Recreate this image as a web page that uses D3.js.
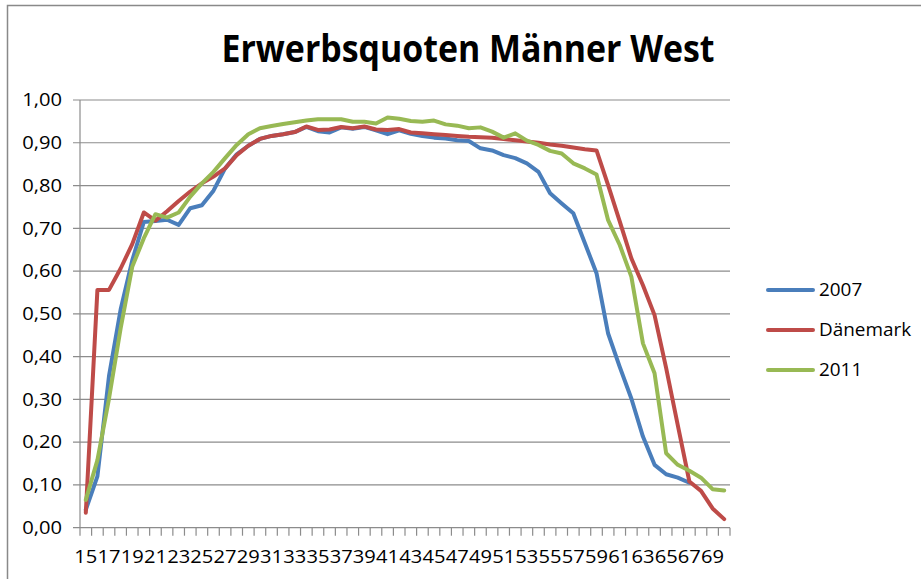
<!DOCTYPE html>
<html>
<head>
<meta charset="utf-8">
<style>
  body { margin: 0; background: #fff; }
  text { font-family: "Open Sans", sans-serif; fill: #000; }
</style>
</head>
<body>
<svg width="921" height="579"></svg>

<script src="https://cdn.jsdelivr.net/npm/d3@7"></script>
<script>

// ages 15 .. 70
var ages = d3.range(15, 71);

var seriesNames = ["2007", "Dänemark", "2011"];
var seriesColors = ["#4a7ebb", "#be4b48", "#98b954"];

// 2007 (ends at 67)
var values2007 = [0.042, 0.120, 0.355, 0.510, 0.625, 0.715, 0.717, 0.720, 0.708, 0.747,
  0.754, 0.788, 0.840, 0.873, 0.893, 0.909, 0.916, 0.920, 0.925, 0.937,
  0.927, 0.924, 0.936, 0.933, 0.937, 0.929, 0.920, 0.929, 0.921, 0.916,
  0.912, 0.910, 0.906, 0.904, 0.887, 0.882, 0.871, 0.864, 0.852, 0.832,
  0.782, 0.758, 0.735, 0.665, 0.595, 0.454, 0.376, 0.302, 0.213, 0.147,
  0.125, 0.117, 0.105];

var valuesDK = [0.035, 0.556, 0.556, 0.606, 0.663, 0.737, 0.718, 0.740, 0.764, 0.786,
  0.805, 0.821, 0.840, 0.871, 0.893, 0.909, 0.916, 0.920, 0.925, 0.938,
  0.930, 0.931, 0.937, 0.934, 0.938, 0.931, 0.930, 0.932, 0.924, 0.922,
  0.920, 0.918, 0.916, 0.914, 0.913, 0.912, 0.909, 0.906, 0.903, 0.900,
  0.896, 0.893, 0.889, 0.885, 0.882, 0.801, 0.716, 0.630, 0.567, 0.497,
  0.373, 0.240, 0.108, 0.086, 0.045, 0.020];

var values2011 = [0.065, 0.158, 0.302, 0.466, 0.610, 0.677, 0.733, 0.725, 0.737, 0.774,
  0.805, 0.832, 0.864, 0.895, 0.920, 0.934, 0.939, 0.944, 0.948, 0.952,
  0.955, 0.955, 0.955, 0.949, 0.949, 0.945, 0.959, 0.956, 0.951, 0.949,
  0.952, 0.943, 0.940, 0.934, 0.936, 0.926, 0.912, 0.922, 0.905, 0.895,
  0.881, 0.875, 0.852, 0.840, 0.826, 0.719, 0.661, 0.587, 0.431, 0.361,
  0.174, 0.147, 0.133, 0.117, 0.090, 0.087];

var yTicks = d3.range(0, 11).map(function(d) { return d / 10; });

var svg = d3.select("svg"),
    plotLeft = 80, plotRight = 730, plotTop = 100, plotBottom = 527.7;

// widen text a bit, the original font runs wide
function stretch(sel, k) {
  sel.each(function() {
    var w = this.getComputedTextLength();
    d3.select(this).attr("textLength", w * k).attr("lengthAdjust", "spacingAndGlyphs");
  });
}

// chart border (cut off on the right and bottom)
svg.append("rect")
    .attr("x", 7.5).attr("y", 5.5)
    .attr("width", 950).attr("height", 600)
    .attr("fill", "none")
    .attr("stroke", "#898989")
    .attr("stroke-width", 1.5);

var x = d3.scaleBand()
    .domain(ages)
    .range([plotLeft, plotRight]);

var y = d3.scaleLinear()
    .domain([0, 1])
    .range([plotBottom, plotTop]);

var fmt = function(d) { return d3.format(".2f")(d).replace(".", ","); };

// gridlines
svg.append("g")
  .selectAll("line")
  .data(yTicks)
  .enter().append("line")
    .attr("x1", plotLeft - 7).attr("x2", plotRight)
    .attr("y1", function(d) { return y(d); })
    .attr("y2", function(d) { return y(d); })
    .attr("stroke", "#8c8c8c")
    .attr("stroke-width", 1.2);

// y axis line
svg.append("line")
    .attr("x1", plotLeft).attr("x2", plotLeft)
    .attr("y1", plotTop).attr("y2", plotBottom)
    .attr("stroke", "#8c8c8c")
    .attr("stroke-width", 1.2);

svg.append("g")
  .selectAll("text")
  .data(yTicks)
  .enter().append("text")
    .attr("x", 62)
    .attr("y", function(d) { return y(d); })
    .attr("dy", "0.36em")
    .attr("text-anchor", "end")
    .attr("font-size", 17.5)
    .text(fmt)
    .call(stretch, 1.15);

// x ticks at category boundaries
var bounds = ages.map(function(a) { return x(a); }).concat([plotRight]);
svg.append("g")
  .selectAll("line")
  .data(bounds)
  .enter().append("line")
    .attr("x1", function(d) { return d; })
    .attr("x2", function(d) { return d; })
    .attr("y1", plotBottom).attr("y2", plotBottom + 8)
    .attr("stroke", "#8c8c8c")
    .attr("stroke-width", 1.2);

svg.append("g")
  .selectAll("text")
  .data(ages.filter(function(a, i) { return i % 2 == 0; }))
  .enter().append("text")
    .attr("x", function(d) { return x(d) + x.bandwidth() / 2; })
    .attr("y", 563)
    .attr("text-anchor", "middle")
    .attr("font-size", 17.5)
    .text(function(d) { return d; })
    .call(stretch, 1.15);

// lines
var series = [values2007, valuesDK, values2011];

var line = d3.line()
    .x(function(d, i) { return x(ages[i]) + x.bandwidth() / 2; })
    .y(function(d) { return y(d); });

svg.append("g")
  .selectAll("path")
  .data(series)
  .enter().append("path")
    .attr("d", line)
    .attr("fill", "none")
    .attr("stroke", function(d, i) { return seriesColors[i]; })
    .attr("stroke-width", 4)
    .attr("stroke-linejoin", "round")
    .attr("stroke-linecap", "round");

// title
svg.append("text")
    .attr("x", 468)
    .attr("y", 62)
    .attr("text-anchor", "middle")
    .attr("font-size", 37)
    .attr("font-weight", "bold")
    .attr("textLength", 493)
    .attr("lengthAdjust", "spacingAndGlyphs")
    .text("Erwerbsquoten Männer West");

// legend
var legend = svg.append("g")
  .selectAll("g")
  .data(seriesNames)
  .enter().append("g")
    .attr("transform", function(d, i) { return "translate(768," + (290 + i * 40) + ")"; });

legend.append("line")
    .attr("x1", 0).attr("x2", 45)
    .attr("stroke", function(d, i) { return seriesColors[i]; })
    .attr("stroke-width", 4)
    .attr("stroke-linecap", "round");

legend.append("text")
    .attr("x", 51)
    .attr("dy", "0.36em")
    .attr("font-size", 17.5)
    .text(function(d) { return d; })
    .call(stretch, 1.08);

</script>
</body>
</html>
